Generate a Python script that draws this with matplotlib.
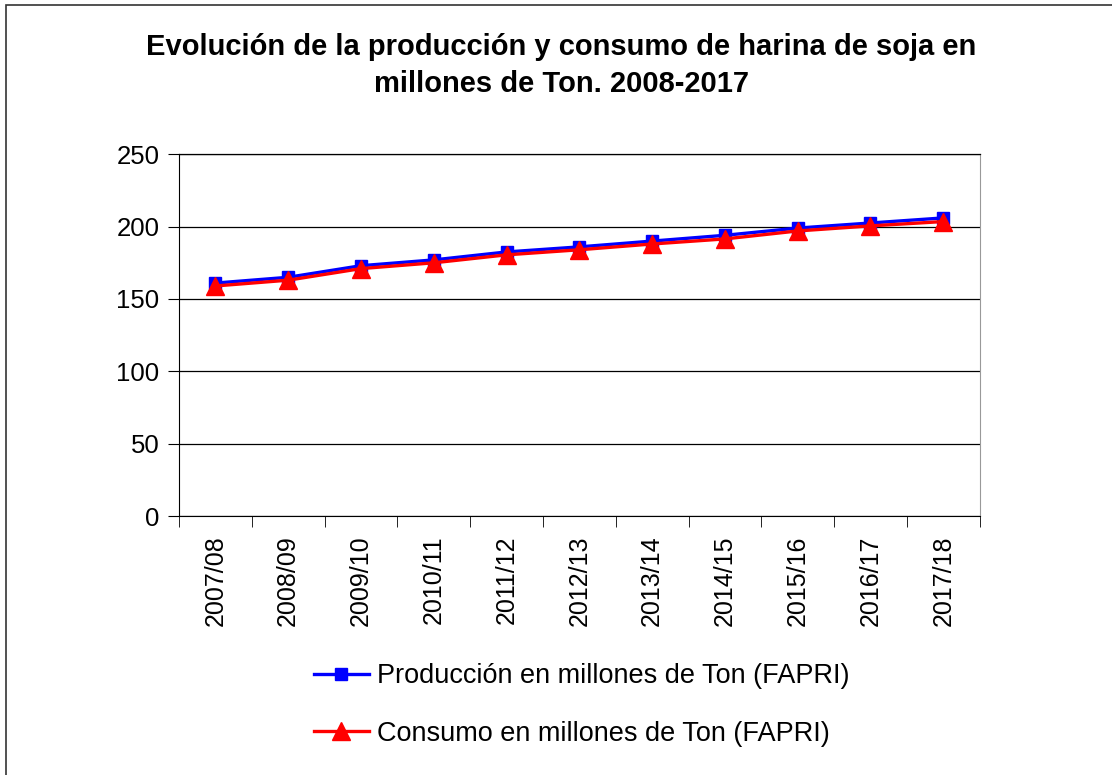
import numpy as np
import matplotlib
matplotlib.use('Agg')
import matplotlib.pyplot as plt
from matplotlib.patches import Rectangle

plt.rcParams['font.family'] = ['Liberation Sans', 'DejaVu Sans']

campanias = ['2007/08', '2008/09', '2009/10', '2010/11', '2011/12', '2012/13',
             '2013/14', '2014/15', '2015/16', '2016/17', '2017/18']
produccion = [161, 165, 173, 177, 182.5, 186, 190, 194, 199, 202.5, 206]
consumo = [159, 163, 171, 175, 180.5, 184, 188, 191.5, 197, 200.5, 203.5]

fig = plt.figure(figsize=(11.12, 7.75), dpi=100)
# marco del grafico
fig.patches.append(Rectangle((6 / 1112, -0.05), 1.2, 1 - 5 / 775 + 0.05,
                             transform=fig.transFigure, fill=False,
                             edgecolor='#333333', linewidth=1.2))

ax = fig.add_axes([0.161, 0.334, 0.72, 0.467])
x = np.arange(len(campanias))

ax.plot(x, produccion, color='blue', linewidth=2.4, marker='s', markersize=8.5,
        label='Producción en millones de Ton (FAPRI)', zorder=3)
ax.plot(x, consumo, color='red', linewidth=2.4, marker='^', markersize=13.5,
        label='Consumo en millones de Ton (FAPRI)', zorder=4)

ax.set_xlim(-0.5, len(campanias) - 0.5)
ax.set_ylim(0, 250)
ax.set_yticks(range(0, 251, 50))
ax.yaxis.grid(True, color='black', linewidth=0.9)
ax.set_axisbelow(True)

ax.set_xticks(x)
ax.set_xticklabels(campanias, rotation=90, fontsize=18)
ax.set_xticks(np.arange(-0.5, len(campanias)), minor=True)
ax.tick_params(axis='x', which='major', length=0, pad=14)
ax.tick_params(axis='x', which='minor', length=8, direction='out')
ax.tick_params(axis='y', length=8, direction='out', labelsize=18.5, pad=6)

ax.spines['left'].set_color('black')
ax.spines['bottom'].set_color('black')
ax.spines['right'].set_color('#999999')
ax.spines['top'].set_color('black')
ax.spines['top'].set_linewidth(0.9)

fig.text(0.505, 0.915, 'Evolución de la producción y consumo de harina de soja en\nmillones de Ton. 2008-2017',
         ha='center', va='center', fontsize=21, fontweight='bold', linespacing=1.4)

fig.legend(loc='upper left', bbox_to_anchor=(0.273, 0.158), frameon=False,
           fontsize=19.5, handlelength=2.0, handletextpad=0.3, labelspacing=1.15,
           borderaxespad=0)

fig.savefig('out.png', dpi=100)
